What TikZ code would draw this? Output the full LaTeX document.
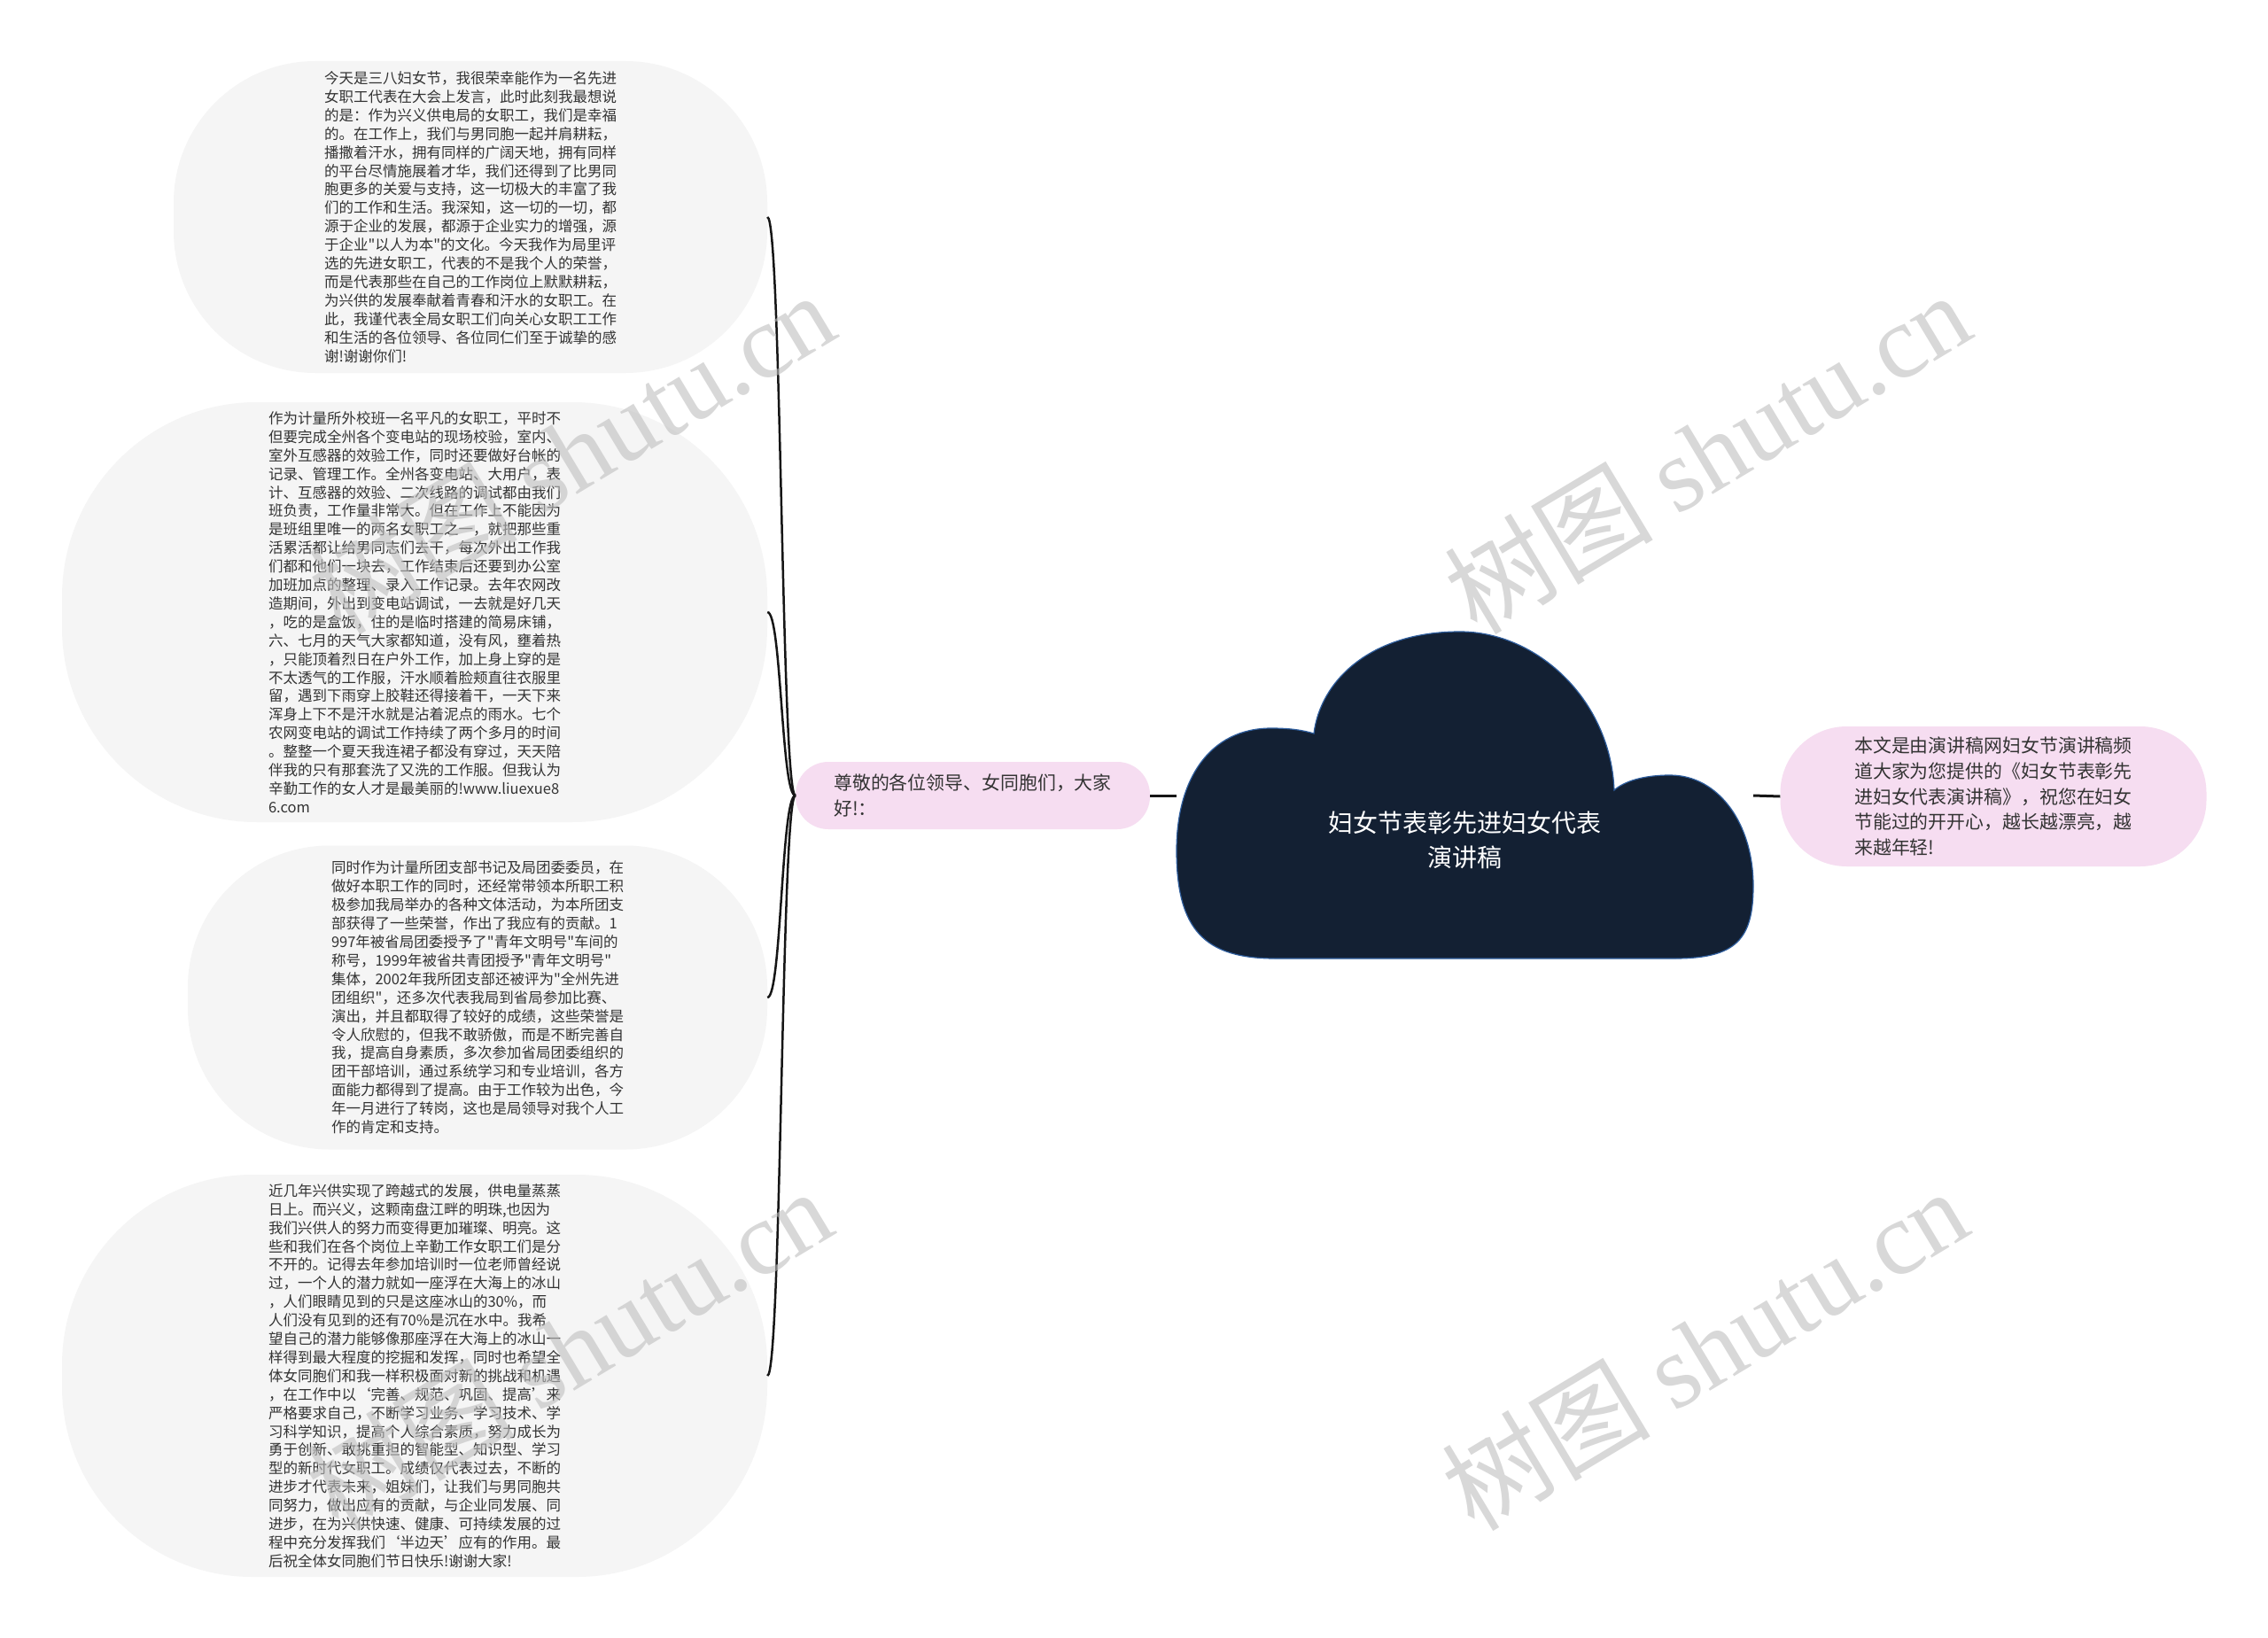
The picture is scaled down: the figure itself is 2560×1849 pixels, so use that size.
\documentclass[tikz,border=0pt]{standalone}
\usepackage{fontspec}
\setmainfont{Noto Sans CJK SC}[Ligatures=TeXOff]
\newfontfamily\wmfont{Liberation Serif}
\definecolor{cloudnavy}{HTML}{132033}
\definecolor{cloudrim}{HTML}{2F5E9E}
\definecolor{pillpink}{HTML}{F6DDF1}
\definecolor{leafgray}{HTML}{F5F5F5}
\definecolor{inktext}{HTML}{333333}
\definecolor{linkdark}{HTML}{161616}
\definecolor{wmgray}{HTML}{BEBEBE}

\begin{document}
\begin{tikzpicture}[x=1pt,y=-1pt,
    leaf/.style={fill=leafgray,align=left,text=inktext,inner sep=0pt,font=\fontsize{16.5}{20.9}\selectfont},
    pill/.style={fill=pillpink,align=left,text=inktext,inner sep=0pt,font=\fontsize{20.9}{28.8}\selectfont},
    link/.style={draw=linkdark,line width=2.5pt},
    stub/.style={draw=linkdark,line width=3pt},
    watermark/.style={text=wmgray,opacity=0.6,rotate=31,font=\fontsize{118}{118}\selectfont}]
    \fill[white] (0,0) rectangle (2560,1849);
    \useasboundingbox (0,0) rectangle (2560,1849);
    % root cloud
    \fill[cloudnavy,draw=cloudrim,line width=1.2pt] (1440,1082) -- (1890,1082)
      .. controls (1960,1082) and (1979,1060) .. (1979,1000)
      .. controls (1979,930) and (1940,875) .. (1885,875)
      .. controls (1855,875) and (1833,882) .. (1822,892)
      .. controls (1818,790) and (1735,713) .. (1648,713)
      .. controls (1545,713) and (1490,770) .. (1483,828)
      .. controls (1470,824) and (1455,822) .. (1435,822)
      .. controls (1365,822) and (1328,880) .. (1328,960)
      .. controls (1328,1050) and (1360,1082) .. (1440,1082) -- cycle;
    \node[text=white,align=center,font=\fontsize{28}{39}\selectfont] (root) at (1653,948) {妇女节表彰先进妇女代表\\演讲稿};
    \coordinate (rootW) at (1328,898);
    \coordinate (rootE) at (1979,898);
    % branches
    \node[pill,rounded corners=37pt,minimum width=400pt,minimum height=76pt] (greet) at (1098,898) {尊敬的各位领导、女同胞们，大家\\好!：};
    \node[pill,rounded corners=75pt,minimum width=481pt,minimum height=158pt] (note) at (2250,899) {本文是由演讲稿网妇女节演讲稿频\\道大家为您提供的《妇女节表彰先\\进妇女代表演讲稿》，祝您在妇女\\节能过的开开心，越长越漂亮，越\\来越年轻!};
    \draw[stub] (greet.east) -- (rootW);
    \draw[stub] (rootE) -- (note.west);
    % sub-branches
    \node[leaf,rounded corners=160pt,minimum width=670pt,minimum height=352pt] (thanks) at (531,245) {今天是三八妇女节，我很荣幸能作为一名先进\\女职工代表在大会上发言，此时此刻我最想说\\的是：作为兴义供电局的女职工，我们是幸福\\的。在工作上，我们与男同胞一起并肩耕耘，\\播撒着汗水，拥有同样的广阔天地，拥有同样\\的平台尽情施展着才华，我们还得到了比男同\\胞更多的关爱与支持，这一切极大的丰富了我\\们的工作和生活。我深知，这一切的一切，都\\源于企业的发展，都源于企业实力的增强，源\\于企业"以人为本"的文化。今天我作为局里评\\选的先进女职工，代表的不是我个人的荣誉，\\而是代表那些在自己的工作岗位上默默耕耘，\\为兴供的发展奉献着青春和汗水的女职工。在\\此，我谨代表全局女职工们向关心女职工工作\\和生活的各位领导、各位同仁们至于诚挚的感\\谢!谢谢你们!};
    \node[leaf,rounded corners=220pt,minimum width=796pt,minimum height=474pt] (work) at (468,691) {作为计量所外校班一名平凡的女职工，平时不\\但要完成全州各个变电站的现场校验，室内、\\室外互感器的效验工作，同时还要做好台帐的\\记录、管理工作。全州各变电站、大用户，表\\计、互感器的效验、二次线路的调试都由我们\\班负责，工作量非常大。但在工作上不能因为\\是班组里唯一的两名女职工之一，就把那些重\\活累活都让给男同志们去干，每次外出工作我\\们都和他们一块去，工作结束后还要到办公室\\加班加点的整理、录入工作记录。去年农网改\\造期间，外出到变电站调试，一去就是好几天\\，吃的是盒饭，住的是临时搭建的简易床铺，\\六、七月的天气大家都知道，没有风，壅着热\\，只能顶着烈日在户外工作，加上身上穿的是\\不太透气的工作服，汗水顺着脸颊直往衣服里\\留，遇到下雨穿上胶鞋还得接着干，一天下来\\浑身上下不是汗水就是沾着泥点的雨水。七个\\农网变电站的调试工作持续了两个多月的时间\\。整整一个夏天我连裙子都没有穿过，天天陪\\伴我的只有那套洗了又洗的工作服。但我认为\\辛勤工作的女人才是最美丽的!www.liuexue8\\6.com};
    \node[leaf,rounded corners=160pt,minimum width=654pt,minimum height=343pt] (honor) at (539,1126) {同时作为计量所团支部书记及局团委委员，在\\做好本职工作的同时，还经常带领本所职工积\\极参加我局举办的各种文体活动，为本所团支\\部获得了一些荣誉，作出了我应有的贡献。1\\997年被省局团委授予了"青年文明号"车间的\\称号，1999年被省共青团授予"青年文明号"\\集体，2002年我所团支部还被评为"全州先进\\团组织"，还多次代表我局到省局参加比赛、\\演出，并且都取得了较好的成绩，这些荣誉是\\令人欣慰的，但我不敢骄傲，而是不断完善自\\我，提高自身素质，多次参加省局团委组织的\\团干部培训，通过系统学习和专业培训，各方\\面能力都得到了提高。由于工作较为出色，今\\年一月进行了转岗，这也是局领导对我个人工\\作的肯定和支持。};
    \node[leaf,rounded corners=215pt,minimum width=796pt,minimum height=454pt] (future) at (468,1553) {近几年兴供实现了跨越式的发展，供电量蒸蒸\\日上。而兴义，这颗南盘江畔的明珠,也因为\\我们兴供人的努力而变得更加璀璨、明亮。这\\些和我们在各个岗位上辛勤工作女职工们是分\\不开的。记得去年参加培训时一位老师曾经说\\过，一个人的潜力就如一座浮在大海上的冰山\\，人们眼睛见到的只是这座冰山的30\%，而\\人们没有见到的还有70\%是沉在水中。我希\\望自己的潜力能够像那座浮在大海上的冰山一\\样得到最大程度的挖掘和发挥，同时也希望全\\体女同胞们和我一样积极面对新的挑战和机遇\\，在工作中以‘完善、规范、巩固、提高’来\\严格要求自己，不断学习业务、学习技术、学\\习科学知识，提高个人综合素质，努力成长为\\勇于创新、敢挑重担的智能型、知识型、学习\\型的新时代女职工。成绩仅代表过去，不断的\\进步才代表未来，姐妹们，让我们与男同胞共\\同努力，做出应有的贡献，与企业同发展、同\\进步，在为兴供快速、健康、可持续发展的过\\程中充分发挥我们‘半边天’应有的作用。最\\后祝全体女同胞们节日快乐!谢谢大家!};
    % connectors
    \foreach \n in {thanks,work,honor,future} {\draw[link] (greet.west) .. controls +(-16,0) and +(16,0) .. (\n.east);}
    % watermarks
    \node[watermark] (wm1) at (645,510) {树图 {\wmfont shutu.cn}};
    \node[watermark] (wm2) at (1927,510) {树图 {\wmfont shutu.cn}};
    \node[watermark] (wm3) at (642,1522) {树图 {\wmfont shutu.cn}};
    \node[watermark] (wm4) at (1924,1522) {树图 {\wmfont shutu.cn}};
\end{tikzpicture}
\end{document}
